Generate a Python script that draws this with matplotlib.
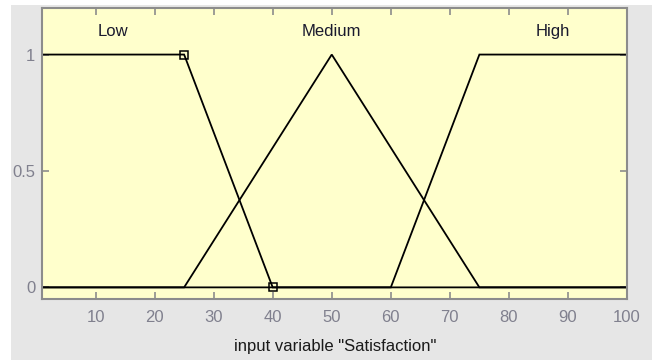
import matplotlib.pyplot as plt
from matplotlib.patches import Rectangle

plt.rcParams["font.family"] = ["Liberation Sans", "DejaVu Sans"]

# membership functions of input variable "Satisfaction"
low_x = [1, 25, 40, 100]
low_y = [1, 1, 0, 0]

medium_x = [1, 25, 50, 75, 100]
medium_y = [0, 0, 1, 0, 0]

high_x = [1, 60, 75, 100]
high_y = [0, 0, 1, 1]

# selected MF (Low) corner handles
handle_x = [25, 40]
handle_y = [1, 0]

labels = ["Low", "Medium", "High"]
label_x = [13, 50, 87.5]
label_y = 1.1

x_ticks = [10, 20, 30, 40, 50, 60, 70, 80, 90, 100]
y_ticks = [0, 0.5, 1]
y_tick_labels = ["0", "0.5", "1"]

GRAY_BG = "#e6e6e6"
AXES_BG = "#ffffcc"
SPINE = "#8c8c8c"
TICK_TEXT = "#80808e"

fig = plt.figure(figsize=(6.52, 3.6), dpi=100, facecolor="white")
fig.patches.append(
    Rectangle(
        (11 / 652, 0),
        1 - 11 / 652,
        1 - 5 / 360,
        transform=fig.transFigure,
        facecolor=GRAY_BG,
        edgecolor="none",
        zorder=-10,
    )
)

ax = fig.add_axes([0.065, 0.1694, 0.8967, 0.8084])
ax.set_facecolor(AXES_BG)

for xs, ys in [(low_x, low_y), (medium_x, medium_y), (high_x, high_y)]:
    ax.plot(xs, ys, color="black", linewidth=1.3, solid_joinstyle="miter")

ax.plot(
    handle_x,
    handle_y,
    linestyle="none",
    marker="s",
    markersize=6,
    markerfacecolor="none",
    markeredgecolor="black",
    markeredgewidth=1.1,
)

for name, lx in zip(labels, label_x):
    ax.text(lx, label_y, name, ha="center", va="center",
            fontsize=12, color="#1a1a2e")

ax.set_xlim(1, 100)
ax.set_ylim(-0.05, 1.2)
ax.set_xticks(x_ticks)
ax.set_yticks(y_ticks)
ax.set_yticklabels(y_tick_labels)

ax.tick_params(
    axis="both",
    direction="in",
    length=5,
    width=1.2,
    color=SPINE,
    labelcolor=TICK_TEXT,
    labelsize=12,
    top=True,
    right=True,
)
ax.tick_params(axis="x", pad=8)
ax.tick_params(axis="y", pad=5)

for spine in ax.spines.values():
    spine.set_color(SPINE)
    spine.set_linewidth(1.5)

ax.set_xlabel('input variable "Satisfaction"', fontsize=12,
              color="#1a1a1a", labelpad=10)

fig.savefig("out.png", dpi=100, facecolor=fig.get_facecolor())
